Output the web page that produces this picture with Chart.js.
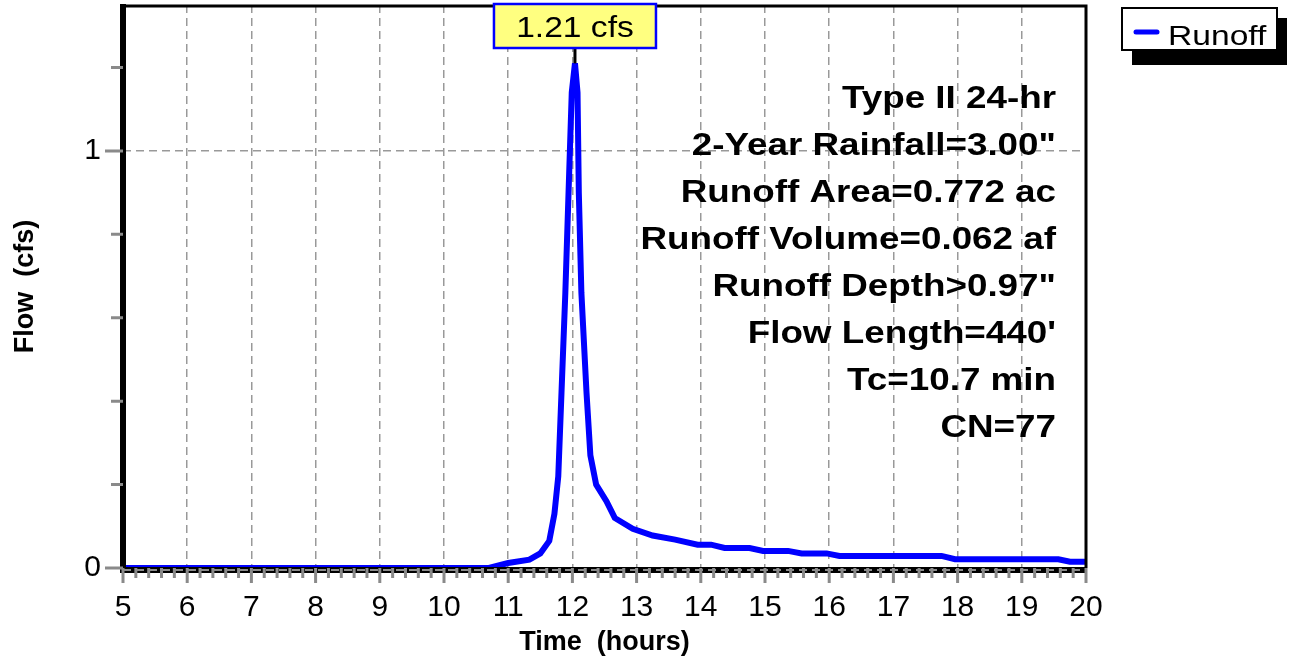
<!DOCTYPE html>
<html lang="en">
<head>
<meta charset="UTF-8">
<title>Runoff Hydrograph</title>
<script src="https://cdn.jsdelivr.net/npm/chart.js"></script>
<style>
  body { margin: 0; background: #fff; }
  #wrap { width: 1291px; height: 661px; }
</style>
</head>
<body>
<div id="wrap"><canvas id="hydro" width="1291" height="661"></canvas></div>
<script>
// hydrograph (hours, cfs)
const timeHours = [5, 10.7, 11.0, 11.33, 11.5, 11.64, 11.72, 11.78, 11.83, 11.89, 11.94, 11.99, 12.04,
  12.08, 12.10, 12.14, 12.22, 12.28, 12.37, 12.53, 12.66, 12.94, 13.25, 13.6, 13.95, 14.16, 14.37,
  14.76, 14.97, 15.36, 15.57, 15.96, 16.16, 17.75, 17.96, 19.57, 19.75, 20];
const flowCfs = [0, 0, 0.012, 0.02, 0.035, 0.065, 0.13, 0.22, 0.42, 0.66, 0.90, 1.14, 1.21,
  1.14, 0.90, 0.66, 0.42, 0.27, 0.20, 0.16, 0.12, 0.094, 0.078, 0.068, 0.056, 0.056, 0.048,
  0.048, 0.041, 0.041, 0.035, 0.035, 0.029, 0.029, 0.021, 0.021, 0.015, 0.015];
const xTicks = [5, 6, 7, 8, 9, 10, 11, 12, 13, 14, 15, 16, 17, 18, 19, 20];
const yLabels = [0, 1];
const yMinor = [0.2, 0.4, 0.6, 0.8, 1.2];
const notes = ['Type II 24-hr', '2-Year Rainfall=3.00"', 'Runoff Area=0.772 ac', 'Runoff Volume=0.062 af',
  'Runoff Depth>0.97"', "Flow Length=440'", 'Tc=10.7 min', 'CN=77'];

const FONT = "'Liberation Sans', Arial, sans-serif";

// text a bit wider than Arial, like the original
function wideText(ctx, text, x, y, sx, align) {
  ctx.save();
  ctx.translate(x, y);
  ctx.scale(sx, 1);
  ctx.textAlign = align;
  ctx.fillText(text, 0, 0);
  ctx.restore();
}

const frame = {
  id: 'frame',
  afterDatasetsDraw(chart) {
    const { ctx, chartArea: a, scales: { x, y } } = chart;
    ctx.save();

    // frame: heavy left/bottom, light top/right
    ctx.strokeStyle = '#000';
    ctx.lineWidth = 3;
    ctx.beginPath();
    ctx.moveTo(a.left, a.top + 1); ctx.lineTo(a.right, a.top + 1); ctx.lineTo(a.right, a.bottom);
    ctx.stroke();
    ctx.lineWidth = 6;
    ctx.beginPath();
    ctx.moveTo(a.left, a.top - 1); ctx.lineTo(a.left, a.bottom + 2); ctx.lineTo(a.right + 1, a.bottom + 2);
    ctx.stroke();
    ctx.strokeStyle = '#8a8a8a';
    ctx.lineWidth = 2;
    ctx.setLineDash([8, 5]);
    ctx.beginPath();
    ctx.moveTo(a.left, a.bottom + 2); ctx.lineTo(a.right, a.bottom + 2);
    ctx.stroke();
    ctx.setLineDash([]);

    // ticks
    ctx.strokeStyle = '#8a8a8a';
    ctx.lineWidth = 3;
    ctx.beginPath();
    for (let i = 0; i <= (x.max - x.min) * 5; i++) {
      const v = x.min + i * 0.2;
      const px = x.getPixelForValue(v);
      const len = i % 5 === 0 ? 15 : 10;
      ctx.moveTo(px, a.bottom); ctx.lineTo(px, a.bottom + len);
    }
    yLabels.forEach(v => { const py = y.getPixelForValue(v); ctx.moveTo(a.left - 18, py); ctx.lineTo(a.left, py); });
    yMinor.forEach(v => { const py = y.getPixelForValue(v); ctx.moveTo(a.left - 12, py); ctx.lineTo(a.left, py); });
    ctx.stroke();

    // storm notes
    ctx.fillStyle = '#000';
    ctx.font = 'bold 32px ' + FONT;
    ctx.textBaseline = 'alphabetic';
    notes.forEach((t, i) => wideText(ctx, t, a.right - 30, 108 + i * 47, 1.15, 'right'));

    // peak callout
    let k = 0;
    flowCfs.forEach((v, i) => { if (v > flowCfs[k]) k = i; });
    const px = x.getPixelForValue(timeHours[k]);
    const py = y.getPixelForValue(flowCfs[k]);
    const label = flowCfs[k].toFixed(2) + ' cfs';
    const bw = 162, bh = 44, bx = px - bw / 2, by = 4;
    ctx.strokeStyle = '#000';
    ctx.lineWidth = 3;
    ctx.beginPath(); ctx.moveTo(px, by + bh); ctx.lineTo(px, py); ctx.stroke();
    ctx.fillStyle = '#ffff80';
    ctx.fillRect(bx, by, bw, bh);
    ctx.strokeStyle = '#0000ff';
    ctx.lineWidth = 2.5;
    ctx.strokeRect(bx, by, bw, bh);
    ctx.fillStyle = '#000';
    ctx.font = '30px ' + FONT;
    wideText(ctx, label, px, by + 33, 1.12, 'center');

    // legend
    const lx = a.right + 36, ly = 8, lw = 155, lh = 42;
    ctx.fillStyle = '#000';
    ctx.fillRect(lx + 10, ly + 10, lw, lh + 5);
    ctx.fillStyle = '#fff';
    ctx.fillRect(lx, ly, lw, lh);
    ctx.strokeStyle = '#000';
    ctx.lineWidth = 2;
    ctx.strokeRect(lx, ly, lw, lh);
    const ds = chart.data.datasets[0];
    ctx.strokeStyle = ds.borderColor;
    ctx.lineWidth = 5;
    ctx.lineCap = 'round';
    ctx.beginPath(); ctx.moveTo(lx + 14, ly + 24); ctx.lineTo(lx + 35, ly + 24); ctx.stroke();
    ctx.fillStyle = '#000';
    ctx.font = '28px ' + FONT;
    wideText(ctx, ds.label, lx + 46, ly + 37, 1.2, 'left');

    ctx.restore();
  }
};

new Chart(document.getElementById('hydro'), {
  type: 'line',
  data: {
    datasets: [{
      label: 'Runoff',
      data: timeHours.map((t, i) => ({ x: t, y: flowCfs[i] })),
      borderColor: '#0000ff',
      borderWidth: 6,
      pointRadius: 0,
      tension: 0,
      fill: false
    }]
  },
  options: {
    responsive: false,
    animation: false,
    devicePixelRatio: 1,
    layout: { padding: { top: 5, right: 205, left: 0, bottom: 0 } },
    plugins: { legend: { display: false }, tooltip: { enabled: false } },
    scales: {
      x: {
        type: 'linear',
        min: 5, max: 20,
        afterBuildTicks: s => { s.ticks = xTicks.map(v => ({ value: v })); },
        afterFit: s => { s.height = 93; s.paddingLeft = 0; s.paddingRight = 0; },
        grid: { color: '#999', lineWidth: 1.5, drawTicks: false },
        border: { display: false, dash: [8, 5] },
        ticks: { color: '#000', font: { family: FONT, size: 30 }, padding: 22, maxRotation: 0 },
        title: { display: true, text: 'Time  (hours)', color: '#000', font: { family: FONT, size: 27, weight: 'bold' }, padding: { top: 0, bottom: 2 } }
      },
      y: {
        min: 0, max: 1.35,
        afterBuildTicks: s => { s.ticks = yLabels.map(v => ({ value: v })); },
        afterFit: s => { s.width = 123; s.paddingTop = 0; s.paddingBottom = 0; },
        grid: { color: '#999', lineWidth: 1.5, drawTicks: false },
        border: { display: false, dash: [8, 5] },
        ticks: { color: '#000', font: { family: FONT, size: 30 }, padding: 22 },
        title: { display: true, text: 'Flow  (cfs)', color: '#000', font: { family: FONT, size: 27, weight: 'bold' }, padding: { top: 9, bottom: 0 } }
      }
    }
  },
  plugins: [frame]
});
</script>
</body>
</html>
